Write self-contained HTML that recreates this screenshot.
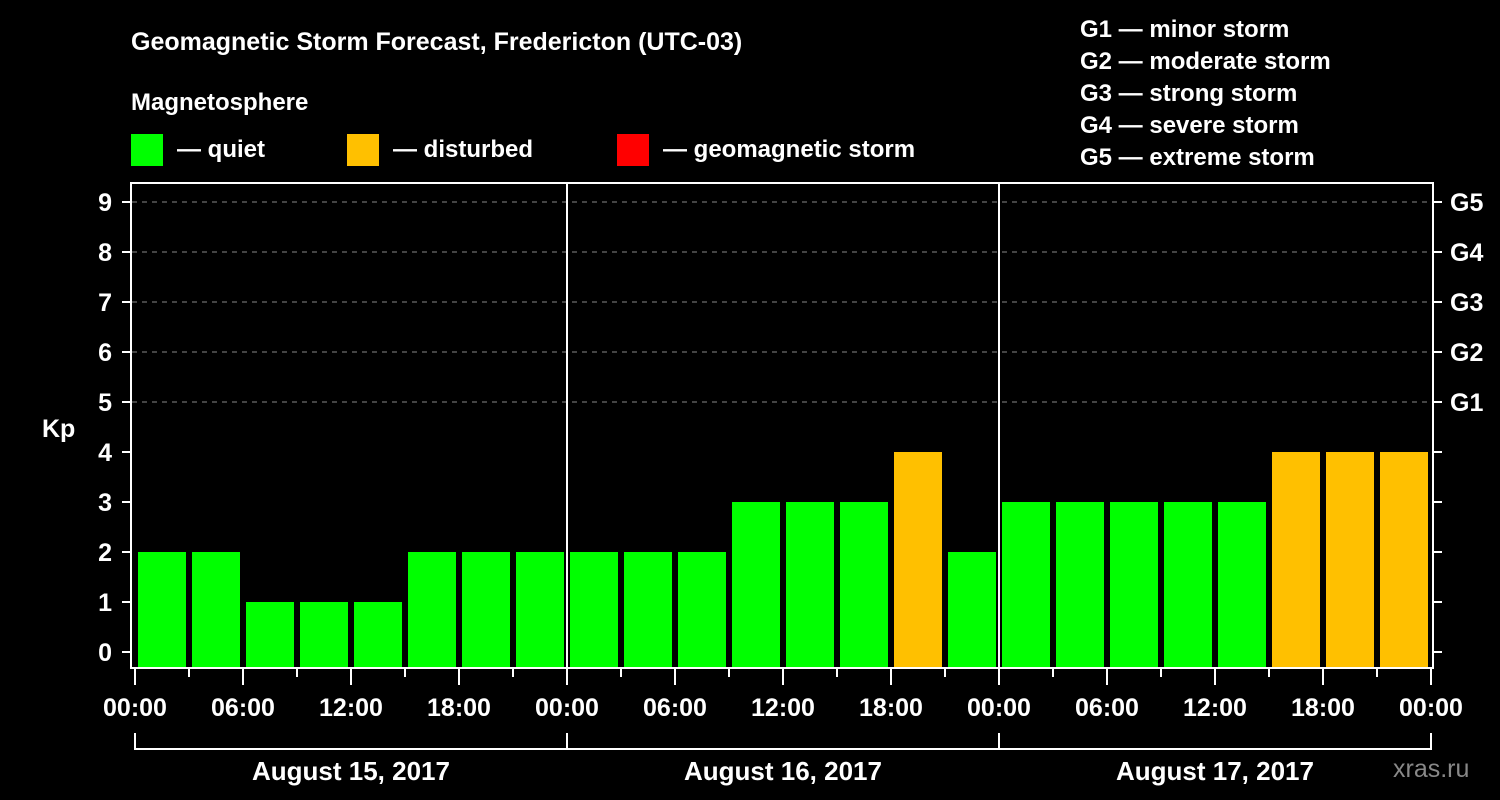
<!DOCTYPE html>
<html><head><meta charset="utf-8"><style>
html,body{margin:0;padding:0;background:#000;}
svg{display:block;font-family:"Liberation Sans",Arial,sans-serif;font-weight:bold;}
</style></head><body>
<svg id="chart" width="1500" height="800" viewBox="0 0 1500 800">
<rect x="0" y="0" width="1500" height="800" fill="#000"/>
<text x="131" y="50" fill="#fff" font-size="25">Geomagnetic Storm Forecast, Fredericton (UTC-03)</text>
<text x="131" y="110" fill="#fff" font-size="24">Magnetosphere</text>
<g><rect x="131" y="134" width="32" height="32" fill="#00ff00"/><text x="177" y="157" fill="#fff" font-size="24">— quiet</text></g>
<g><rect x="347" y="134" width="32" height="32" fill="#ffc000"/><text x="393" y="157" fill="#fff" font-size="24">— disturbed</text></g>
<g><rect x="617" y="134" width="32" height="32" fill="#ff0000"/><text x="663" y="157" fill="#fff" font-size="24">— geomagnetic storm</text></g>
<g fill="#fff" font-size="24">
<text x="1080" y="37">G1 — minor storm</text>
<text x="1080" y="69">G2 — moderate storm</text>
<text x="1080" y="101">G3 — strong storm</text>
<text x="1080" y="133">G4 — severe storm</text>
<text x="1080" y="165">G5 — extreme storm</text>
</g>
<text x="42" y="437" fill="#fff" font-size="25">Kp</text>
<text x="1393" y="777" fill="#888" font-size="25" font-weight="normal">xras.ru</text>
<g id="plot"></g>
</svg>
<script>
const days = ["August 15, 2017", "August 16, 2017", "August 17, 2017"];
const kpValues = [2,2,1,1,1,2,2,2, 2,2,2,3,3,3,4,2, 3,3,3,3,3,4,4,4];
const yTicks = [0,1,2,3,4,5,6,7,8,9];
const gLabels = ["G1","G2","G3","G4","G5"];
const timeLabels = ["00:00","06:00","12:00","18:00"];

const NS = "http://www.w3.org/2000/svg";
const g = document.getElementById("plot");
const x0 = 135, dayW = 432, slotW = dayW / 8;
const xScale = h => x0 + h / 24 * dayW; // hours from start
const yScale = v => 652 - v * 50;
function mk(tag, attrs, parent) {
  const e = document.createElementNS(NS, tag);
  for (const k in attrs) e.setAttribute(k, attrs[k]);
  (parent || g).appendChild(e);
  return e;
}
// gridlines & y ticks
yTicks.forEach(v => {
  const y = yScale(v);
  if (v >= 5) {
    const l = mk("line", {x1: 132, x2: 1432, y1: y, y2: y, stroke: "#888", "stroke-width": 1, "stroke-dasharray": "5,5"});
    
    
  }
  const t = mk("line", {x1: 122, x2: 131, y1: y, y2: y, stroke: "#fff", "stroke-width": 2});
  
  
  const t2 = mk("line", {x1: 1433, x2: 1442, y1: y, y2: y, stroke: "#fff", "stroke-width": 2});
  
  
  const lab = mk("text", {x: 112, y: y + 9, fill: "#fff", "font-size": 25, "text-anchor": "end"});
  lab.textContent = v;
  
  
});
gLabels.forEach((s, i) => {
  const lab = mk("text", {x: 1450, y: yScale(5 + i) + 9, fill: "#fff", "font-size": 25});
  lab.textContent = s;
  
  
});
// bars
kpValues.forEach((v, i) => {
  const b = mk("rect", {x: xScale(i * 3) + 3, y: yScale(v), width: slotW - 6, height: 667 - yScale(v), fill: v >= 5 ? "#ff0000" : (v >= 4 ? "#ffc000" : "#00ff00")});
  
  
});
// frame
const fr = mk("rect", {x: 131, y: 183, width: 1302, height: 485, fill: "none", stroke: "#fff", "stroke-width": 2});


for (let d = 1; d < days.length; d++) {
  const l = mk("line", {x1: xScale(d * 24), x2: xScale(d * 24), y1: 183, y2: 668, stroke: "#fff", "stroke-width": 2});
  
  
}
// x ticks
for (let h = 0; h <= days.length * 24; h += 3) {
  const x = xScale(h);
  const t = mk("line", {x1: x, x2: x, y1: 669, y2: h % 6 === 0 ? 685 : 677, stroke: "#fff", "stroke-width": 2});
  
  
  if (h % 6 === 0) {
    const lab = mk("text", {x: x, y: 716, fill: "#fff", "font-size": 25, "text-anchor": "middle"});
    lab.textContent = timeLabels[(h % 24) / 6];
    
    
  }
}
// day brackets
days.forEach((d, i) => {
  const xa = xScale(i * 24), xb = xScale((i + 1) * 24);
  const p = mk("path", {d: `M${xa},733 V749 H${xb} V733`, fill: "none", stroke: "#fff", "stroke-width": 2});
  
  
  const lab = mk("text", {x: (xa + xb) / 2, y: 780, fill: "#fff", "font-size": 26, "text-anchor": "middle"});
  lab.textContent = d;
  
  
});
</script>
</body></html>
